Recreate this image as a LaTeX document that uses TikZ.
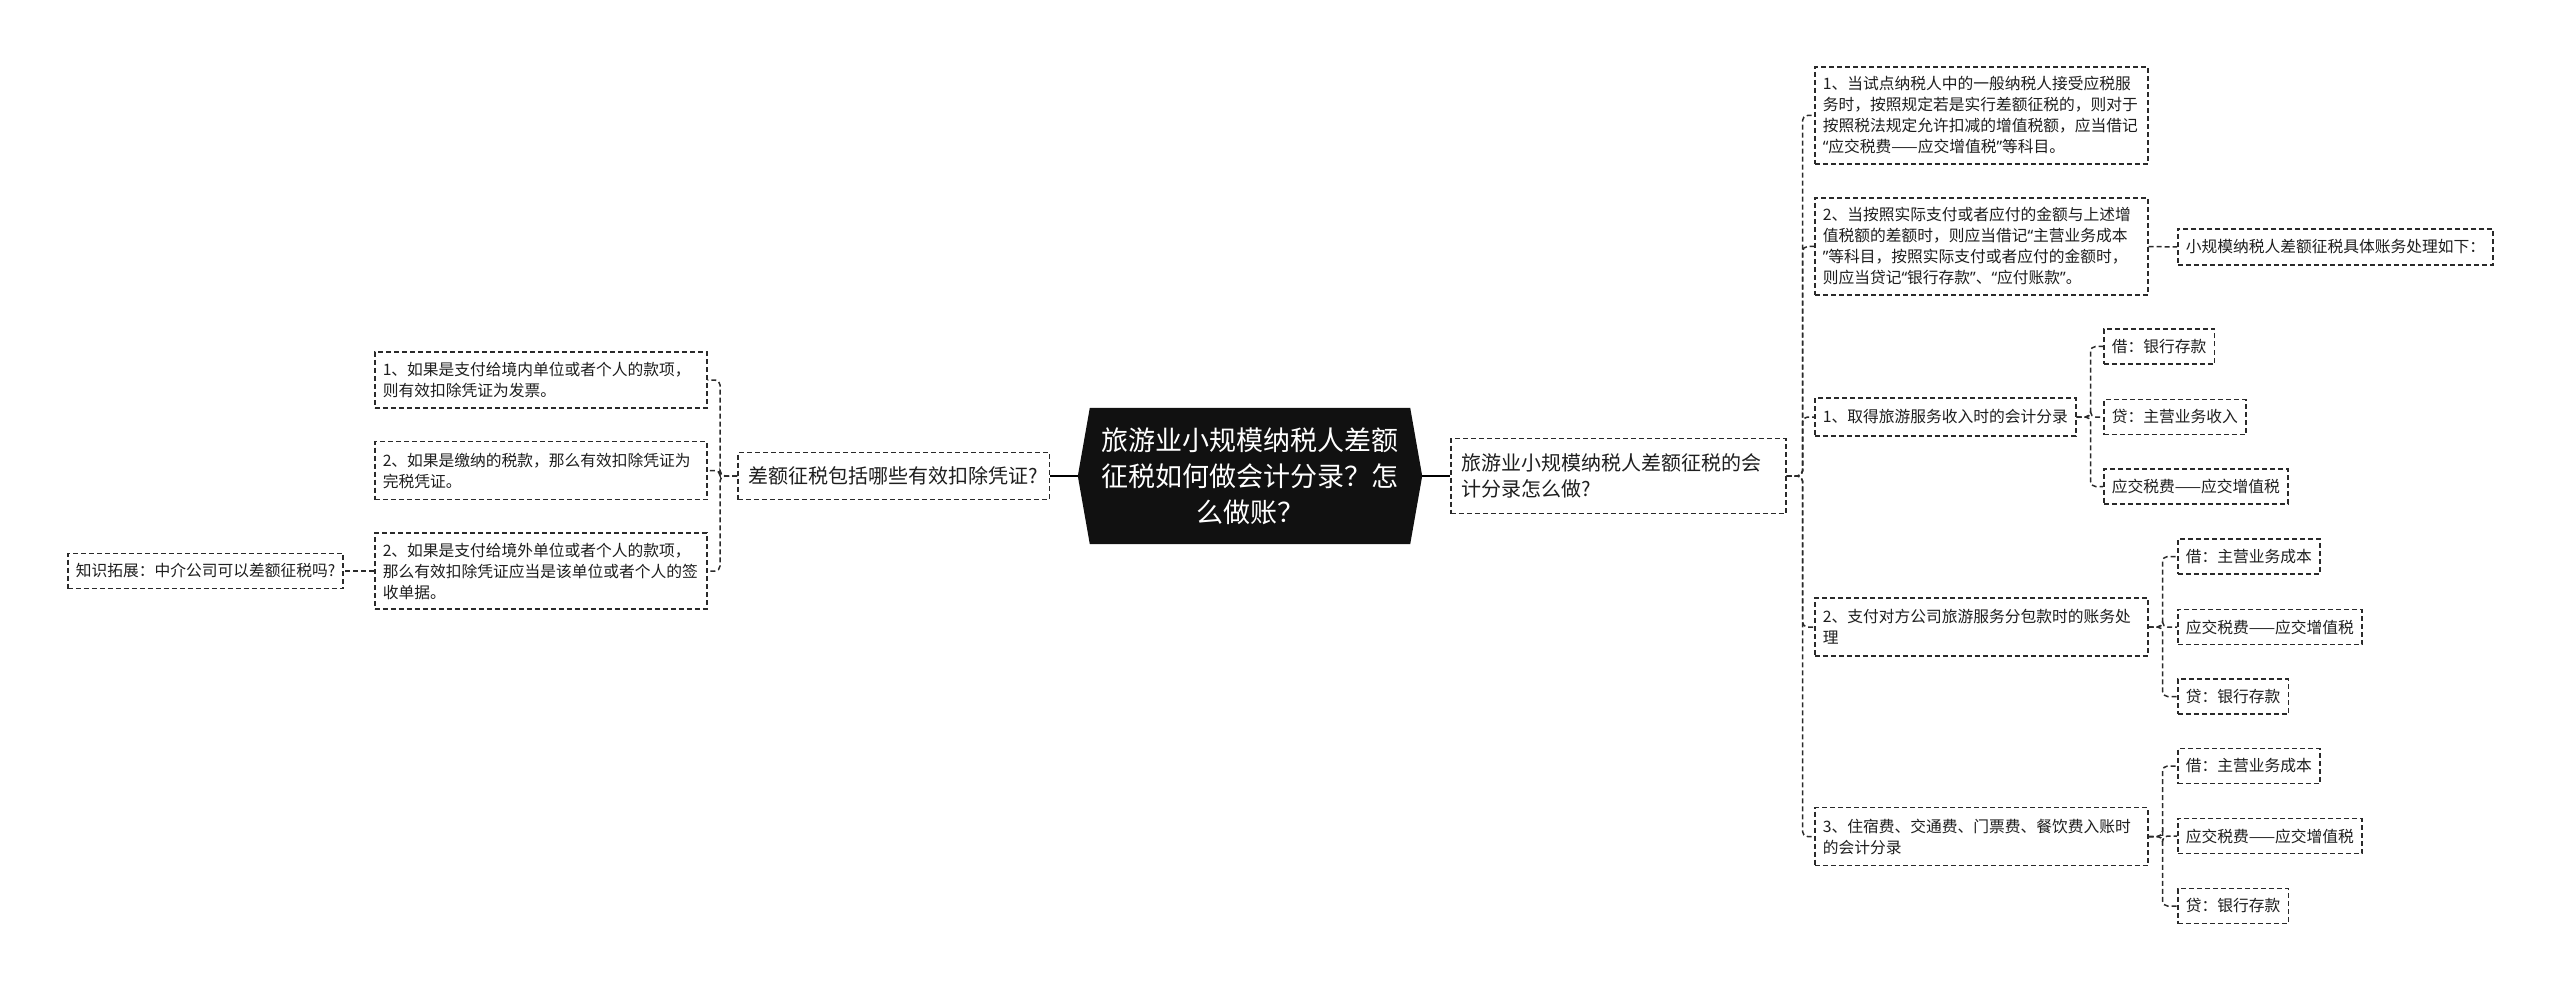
\documentclass[tikz,border=0pt]{standalone}
\usepackage{fontspec}
\setmainfont{Noto Sans CJK SC}
\newfontfamily\latq{Noto Sans}
\newcommand\qo{{\latq “}}
\newcommand\qc{{\latq ”}}
\usetikzlibrary{calc,backgrounds}
\definecolor{ln}{HTML}{2A2A2A}
\definecolor{cf}{HTML}{111111}
\definecolor{tx}{HTML}{1E1E1E}
\tikzset{
  box/.style={draw=ln, line width=1.5pt, dash pattern=on 5pt off 3pt, fill=white,
    inner xsep=8pt, inner ysep=3pt, align=left, anchor=west, text=tx,
    font=\fontsize{15.75}{21}\selectfont},
  bigbox/.style={box, font=\fontsize{20}{26}\selectfont, inner xsep=11pt},
  conn/.style={draw=ln, line width=1.5pt, dash pattern=on 5pt off 3pt, rounded corners=5pt},
  solidconn/.style={draw=black, line width=2.2pt},
  centre/.style={minimum width=320pt, minimum height=136pt, inner sep=0pt, align=center,
    text=white, font=\fontsize{27}{36}\selectfont}
}
\begin{document}
\begin{tikzpicture}[x=1pt,y=-1pt]
\useasboundingbox (0,0) rectangle (2560,992);

% centre
\node[centre] (c) at (1250,476) {旅游业小规模纳税人差额\\征税如何做会计分录？怎\\么做账？};
\coordinate (cl) at ($(c.west)+(-12,0)$);
\coordinate (cr) at ($(c.east)+(12,0)$);
\begin{scope}[on background layer]
\fill[cf] (c.north west) -- (cl) -- (c.south west) -- (c.south east) -- (cr) -- (c.north east) -- cycle;
\end{scope}

% left side
\node[bigbox, anchor=east, minimum height=47pt] (lb) at (1050,476) {差额征税包括哪些有效扣除凭证?};
\node[box, text width=316pt, minimum height=56pt] (l1) at (374,380) {1、如果是支付给境内单位或者个人的款项，\\则有效扣除凭证为发票。};
\node[box, text width=316pt, minimum height=58pt] (l2) at (374,470.5) {2、如果是缴纳的税款，那么有效扣除凭证为\\完税凭证。};
\node[box, text width=316pt, minimum height=76pt] (l3) at (374,571) {2、如果是支付给境外单位或者个人的款项，\\那么有效扣除凭证应当是该单位或者个人的签\\收单据。};
\node[box, minimum height=35pt] (k) at (67,571) {知识拓展：中介公司可以差额征税吗?};

% right side
\node[bigbox, text width=313pt, minimum height=75pt] (rb) at (1450,476) {旅游业小规模纳税人差额征税的会\\计分录怎么做?};
\node[box, text width=317pt, minimum height=97pt] (r1) at (1814,115.5) {1、当试点纳税人中的一般纳税人接受应税服\\务时，按照规定若是实行差额征税的，则对于\\按照税法规定允许扣减的增值税额，应当借记\\\qo 应交税费——应交增值税\qc 等科目。};
\node[box, text width=317pt, minimum height=97pt] (r2) at (1814,246.5) {2、当按照实际支付或者应付的金额与上述增\\值税额的差额时，则应当借记\qo 主营业务成本\\\qc 等科目，按照实际支付或者应付的金额时，\\则应当贷记\qo 银行存款\qc 、\qo 应付账款\qc 。};
\node[box, minimum height=36pt] (s) at (2177,247) {小规模纳税人差额征税具体账务处理如下：};
\node[box, minimum height=38pt] (r3) at (1814,417) {1、取得旅游服务收入时的会计分录};
\node[box, minimum height=35pt] (r3a) at (2103,346.5) {借：银行存款};
\node[box, minimum height=35pt] (r3b) at (2103,417) {贷：主营业务收入};
\node[box, minimum height=35pt] (r3c) at (2103,486.5) {应交税费——应交增值税};
\node[box, text width=317pt, minimum height=58pt] (r4) at (1814,627) {2、支付对方公司旅游服务分包款时的账务处\\理};
\node[box, minimum height=35pt] (r4a) at (2177,556.5) {借：主营业务成本};
\node[box, minimum height=35pt] (r4b) at (2177,627) {应交税费——应交增值税};
\node[box, minimum height=35pt] (r4c) at (2177,696.5) {贷：银行存款};
\node[box, text width=317pt, minimum height=58pt] (r5) at (1814,836.5) {3、住宿费、交通费、门票费、餐饮费入账时\\的会计分录};
\node[box, minimum height=35pt] (r5a) at (2177,766) {借：主营业务成本};
\node[box, minimum height=35pt] (r5b) at (2177,836) {应交税费——应交增值税};
\node[box, minimum height=35pt] (r5c) at (2177,906) {贷：银行存款};

% solid connectors
\draw[solidconn] (lb.east) -- (cl);
\draw[solidconn] (cr) -- (rb.west);

% left connectors
\foreach \t in {l1,l2,l3} \draw[conn] (lb.west) -- ++(-17,0) |- (\t.east);
\draw[conn] (l3.west) -- (k.east);

% right connectors
\foreach \t in {r1,r2,r3,r4,r5} \draw[conn] (rb.east) -- ++(16,0) |- (\t.west);
\draw[conn] (r2.east) -- (s.west);
\foreach \t in {r3a,r3b,r3c} \draw[conn] (r3.east) -- ++(14,0) |- (\t.west);
\foreach \t in {r4a,r4b,r4c} \draw[conn] (r4.east) -- ++(14,0) |- (\t.west);
\foreach \t in {r5a,r5b,r5c} \draw[conn] (r5.east) -- ++(14,0) |- (\t.west);
\end{tikzpicture}
\end{document}
